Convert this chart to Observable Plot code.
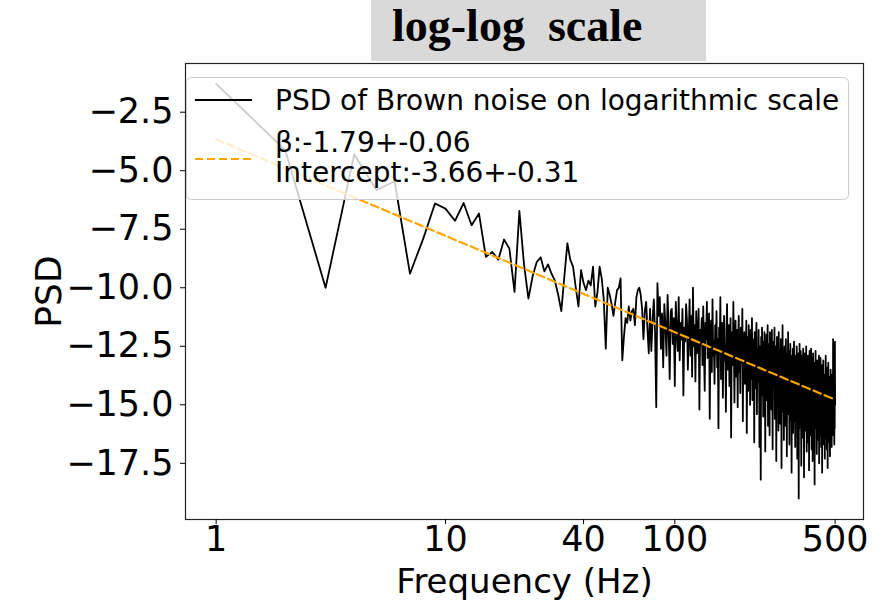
<!DOCTYPE html>
<html>
<head>
<meta charset="utf-8">
<script src="https://cdn.jsdelivr.net/npm/d3@7"></script>
<script src="https://cdn.jsdelivr.net/npm/@observablehq/plot@0.6"></script>
<style>
  html, body { margin: 0; padding: 0; background: #fff; }
  #wrap { position: relative; width: 879px; height: 606px; overflow: hidden; }
  #title { margin-left: 371px; width: 335px; height: 61px; box-sizing: border-box; background: #d9d9d9;
           font-family: "Liberation Serif", "Times New Roman", serif; font-weight: bold; font-size: 46px;
           line-height: 51px; padding-left: 21px; white-space: pre; color: #000; }
  #chart g[aria-label="x-axis tick label"], #chart g[aria-label="y-axis tick label"] { font-size: 35px; }
  #chart g[aria-label="x-axis label"] { font-size: 34px; }
  #chart g[aria-label="y-axis label"] { font-size: 36px; }
</style>
</head>
<body>
<div id="wrap">
  <div id="title"></div>
  <div id="chart"></div>
</div>
<script>
// ---- data ----
const title = "log-log  scale";
const xLabel = "Frequency (Hz)";
const yLabel = "PSD";
const seriesLabel = "PSD of Brown noise on logarithmic scale";
const fitLabel = ["β:-1.79+-0.06", "Intercept:-3.66+-0.31"];
const xTicks = [1, 10, 40, 100, 500];
const yTicks = [-2.5, -5, -7.5, -10, -12.5, -15, -17.5];
const freq = d3.range(1, 501);
const psd = [
  -1.29, -4.12, -10.0, -4.3, -5.83, -5.45, -9.4, -7.9, -6.4, -6.62,
  -7.14, -6.38, -7.33, -6.83, -8.68, -8.47, -8.8, -7.94, -8.33, -10.18,
  -6.72, -9.0, -10.46, -9.5, -8.9, -8.7, -9.3, -9.0, -9.4, -9.7,
  -10.3, -11.0, -9.5, -8.1, -8.8, -9.1, -10.0, -10.8, -9.25, -9.8,
  -10.1, -9.7, -9.9, -9.1, -10.8, -10.2, -9.1, -9.6, -10.5, -12.6,
  -10.0, -10.3, -10.7, -11.2, -10.6, -10.1, -10.0, -9.6, -13.1, -12.1,
  -11.3, -11.5, -10.8, -11.4, -11.0, -10.9, -11.6, -10.4, -10.1, -10.0,
  -10.3, -10.9, -12.2, -11.0, -10.6, -11.8, -12.8, -10.9, -12.7, -11.4,
  -10.5, -11.9, -15.1, -9.8, -11.2, -10.4, -12.6, -11.1, -13.4, -10.7,
  -11.6, -12.9, -10.3, -11.8, -13.9, -11.0, -10.9, -12.4, -11.3, -14.2,
  -10.6, -11.9, -12.7, -10.4, -13.1, -11.5, -12.2, -10.9, -14.6, -11.7,
  -12.3, -10.7, -11.4, -13.5, -12.0, -10.5, -12.9, -11.2, -13.8, -10.0,
  -12.5, -11.6, -14.0, -11.0, -12.8, -12.1, -10.9, -15.2, -11.8, -12.4,
  -11.3, -13.3, -10.8, -12.6, -14.4, -11.5, -12.2, -10.6, -13.0, -12.7,
  -11.1, -15.6, -12.0, -11.4, -13.6, -10.5, -12.9, -12.3, -14.1, -11.6,
  -12.8, -11.0, -13.4, -12.2, -16.0, -11.7, -12.5, -10.4, -13.9, -12.1,
  -11.5, -14.7, -12.6, -11.2, -13.1, -12.4, -15.3, -11.8, -10.7, -13.5,
  -12.0, -11.6, -14.2, -12.9, -11.3, -16.4, -12.5, -11.9, -13.3, -10.6,
  -12.7, -14.9, -12.1, -11.4, -13.8, -12.6, -11.8, -15.1, -12.3, -11.2,
  -13.6, -12.0, -14.5, -11.7, -12.9, -13.2, -10.9, -15.7, -12.4, -13.0,
  -11.9, -14.1, -12.6, -13.5, -11.4, -16.2, -12.8, -12.1, -14.4, -11.6,
  -13.3, -12.5, -15.0, -11.8, -13.9, -12.7, -11.3, -14.8, -12.9, -13.4,
  -12.2, -16.6, -11.9, -13.1, -14.3, -12.4, -11.5, -15.4, -13.0, -12.6,
  -14.0, -11.8, -13.7, -16.8, -12.5, -13.2, -18.2, -12.1, -14.6, -11.7,
  -13.5, -12.9, -15.5, -12.3, -14.1, -11.9, -13.6, -17.0, -12.7, -13.3,
  -12.0, -14.8, -13.1, -11.6, -15.9, -12.8, -13.9, -12.4, -16.3, -11.9,
  -13.7, -14.5, -12.6, -15.2, -11.8, -13.4, -16.9, -12.9, -14.2, -12.3,
  -13.8, -11.7, -15.6, -13.0, -14.7, -12.5, -17.4, -13.3, -12.1, -14.9,
  -13.6, -12.4, -16.1, -11.9, -14.3, -13.1, -15.8, -12.7, -14.0, -12.2,
  -13.9, -17.7, -12.8, -14.6, -11.6, -15.3, -13.4, -12.9, -16.5, -13.7,
  -12.5, -14.4, -13.1, -15.9, -12.2, -14.8, -13.6, -17.2, -12.8, -14.1,
  -13.3, -11.9, -15.4, -14.0, -12.7, -16.7, -13.5, -14.9, -12.4, -15.6,
  -13.8, -12.9, -17.9, -14.3, -13.0, -15.1, -12.6, -16.2, -14.5, -13.2,
  -12.3, -15.7, -14.0, -13.6, -16.8, -12.9, -14.7, -13.1, -15.3, -12.5,
  -14.2, -17.3, -13.4, -15.0, -12.8, -14.6, -19.0, -13.7, -16.0, -12.4,
  -14.9, -13.3, -15.8, -12.7, -14.4, -17.6, -13.9, -15.2, -12.9, -14.1,
  -16.4, -13.5, -12.6, -15.5, -14.0, -18.1, -13.2, -14.8, -12.8, -16.1,
  -14.3, -13.6, -15.9, -12.5, -14.7, -17.0, -13.8, -15.3, -13.0, -16.6,
  -12.9, -14.5, -15.7, -13.4, -17.8, -14.1, -12.7, -15.0, -14.4, -16.3,
  -13.3, -15.6, -12.6, -14.8, -16.9, -13.7, -15.2, -13.0, -17.4, -14.2,
  -12.8, -15.4, -14.0, -16.2, -13.5, -14.9, -18.4, -13.2, -15.8, -14.6,
  -12.7, -16.0, -14.3, -15.1, -13.6, -17.1, -14.4, -13.1, -15.7, -14.8,
  -16.5, -13.4, -15.0, -14.1, -12.9, -17.5, -14.7, -15.5, -13.8, -16.3,
  -14.2, -13.0, -15.9, -14.5, -16.8, -13.5, -15.2, -14.0, -17.9, -13.3,
  -15.6, -14.4, -16.1, -13.1, -15.3, -14.8, -16.7, -13.7, -15.0, -14.3,
  -17.3, -13.9, -15.8, -14.6, -12.9, -16.4, -14.1, -15.5, -13.4, -16.9,
  -14.7, -15.2, -13.6, -17.7, -14.9, -15.9, -13.2, -16.2, -14.5, -15.1,
  -13.8, -16.6, -14.3, -15.7, -17.2, -14.0, -15.4, -13.5, -16.0, -14.8,
  -15.3, -13.9, -16.8, -14.6, -15.0, -13.7, -16.3, -14.2, -15.8, -12.2,
  -14.9, -16.1, -13.6, -15.5, -14.4, -16.7, -13.9, -16.0, -12.3, -15.0
];
// fitted line (read at its two ends)
const fitFreq = [1, 500];
const fitPsd = [-3.66, -14.78];

document.getElementById("title").textContent = title;

const series = freq.map((f, i) => ({f, v: psd[i]}));
const fit = fitFreq.map((f, i) => ({f, v: fitPsd[i]}));

const fmtY = d => d.toFixed(1).replace("-", "\u2212");

const chart = Plot.plot({
  width: 879,
  height: 545,
  marginLeft: 185,
  marginRight: 16,
  marginTop: 2,
  marginBottom: 87,
  style: {fontFamily: "DejaVu Sans", background: "transparent", color: "#000", overflow: "visible"},
  x: {type: "log", domain: [0.735, 665]},
  y: {domain: [-19.9, -0.42]},
  marks: [
    Plot.line(series, {x: "f", y: "v", stroke: "#000", strokeWidth: 1.8}),
    Plot.line(fit, {x: "f", y: "v", stroke: "#ffa500", strokeWidth: 2.2, strokeDasharray: "8,4"}),
    Plot.frame({stroke: "#222", strokeWidth: 1.2}),
    Plot.axisX(xTicks, {ticks: 1000, tickFormat: d => String(d), tickSize: 5, tickPadding: 2, fontSize: 35,
                label: xLabel, labelAnchor: "center", labelArrow: "none", labelOffset: 73}),
    Plot.axisY(yTicks, {tickFormat: fmtY, tickSize: 5, tickPadding: 7, fontSize: 35,
                label: yLabel, labelAnchor: "center", labelArrow: "none", labelOffset: 150})
  ]
});
document.getElementById("chart").appendChild(chart);

// legend (overlaid inside the plot, as in the reference)
const ns = "http://www.w3.org/2000/svg";
const leg = document.createElementNS(ns, "svg");
leg.setAttribute("id", "legend");
leg.setAttribute("width", 879);
leg.setAttribute("height", 606);
leg.style.position = "absolute";
leg.style.left = "0px";
leg.style.top = "0px";
leg.style.pointerEvents = "none";
document.getElementById("wrap").appendChild(leg);
const L = d3.select(leg);
L.append("rect").attr("x", 186.5).attr("y", 77.5).attr("width", 662).attr("height", 122)
  .attr("rx", 5).attr("fill", "rgba(255,255,255,0.8)").attr("stroke", "#cccccc").attr("stroke-width", 1);
L.append("line").attr("x1", 195).attr("x2", 252).attr("y1", 100).attr("y2", 100)
  .attr("stroke", "#000").attr("stroke-width", 1.8);
L.append("line").attr("x1", 195).attr("x2", 252).attr("y1", 159).attr("y2", 159)
  .attr("stroke", "#ffa500").attr("stroke-width", 2.2).attr("stroke-dasharray", "8,4");
const tstyle = t => t.attr("font-family", "DejaVu Sans").attr("font-size", 28).attr("fill", "#000");
tstyle(L.append("text").attr("x", 275).attr("y", 110).text(seriesLabel));
tstyle(L.append("text").attr("x", 275).attr("y", 151.5).text(fitLabel[0]));
tstyle(L.append("text").attr("x", 275).attr("y", 181.5).text(fitLabel[1]));
</script>
</body>
</html>
